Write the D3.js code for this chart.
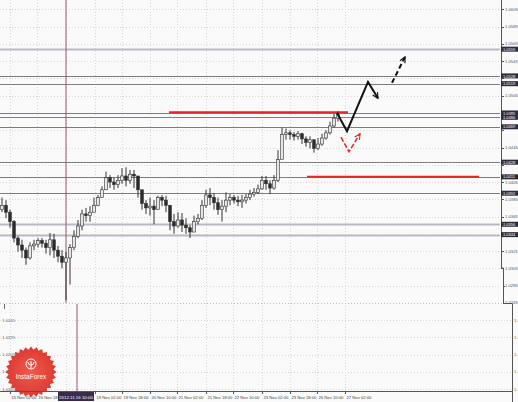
<!DOCTYPE html>
<html>
<head>
<meta charset="utf-8">
<script src="https://cdn.jsdelivr.net/npm/d3@7"></script>
<style>
  html, body { margin: 0; padding: 0; background: #fafafa; }
  svg { display: block; font-family: "Liberation Sans", Arial, sans-serif; }
</style>
</head>
<body>
<svg id="chart" width="518" height="402"></svg>
<script>
// candles (H-bars)
const firstOpen = 1.0373;
const closes = [1.0378,1.0370,1.0359,1.0340,1.0332,1.0326,1.0317,1.0331,1.0333,1.0337,
  1.0334,1.0329,1.0338,1.0326,1.0319,1.0312,1.0317,1.0329,1.0342,1.0354,
  1.0368,1.0366,1.0370,1.0378,1.0387,1.0396,1.0410,1.0405,1.0402,1.0407,
  1.0412,1.0407,1.0414,1.0412,1.0396,1.0380,1.0375,1.0377,1.0373,1.0387,
  1.0384,1.0378,1.0359,1.0354,1.0361,1.0355,1.0352,1.0347,1.0359,1.0363,
  1.0378,1.0390,1.0387,1.0381,1.0373,1.0377,1.0384,1.0387,1.0384,1.0382,
  1.0384,1.0387,1.0391,1.0393,1.0397,1.0407,1.0403,1.0398,1.0407,1.0431,
  1.0460,1.0462,1.0460,1.0458,1.0461,1.0455,1.0451,1.0454,1.0444,1.0449,
  1.0456,1.0462,1.0470,1.0479,1.0484];
const highs = [1.0387,1.0384,1.0373,1.0361,1.0342,1.0338,1.0329,1.0335,1.0338,1.0340,
  1.0340,1.0338,1.0346,1.0345,1.0331,1.0326,1.0324,1.0333,1.0349,1.0361,
  1.0373,1.0375,1.0377,1.0387,1.0390,1.0400,1.0417,1.0413,1.0410,1.0413,
  1.0421,1.0422,1.0419,1.0419,1.0410,1.0396,1.0384,1.0387,1.0384,1.0389,
  1.0390,1.0389,1.0378,1.0368,1.0370,1.0369,1.0363,1.0355,1.0366,1.0368,
  1.0384,1.0396,1.0398,1.0392,1.0387,1.0384,1.0393,1.0391,1.0390,1.0389,
  1.0390,1.0391,1.0396,1.0398,1.0402,1.0412,1.0412,1.0407,1.0413,1.0442,
  1.0468,1.0467,1.0465,1.0463,1.0464,1.0462,1.0458,1.0458,1.0454,1.0456,
  1.0461,1.0465,1.0475,1.0484,1.0487];
const lows = [1.0370,1.0363,1.0352,1.0335,1.0324,1.0317,1.0309,1.0315,1.0326,1.0329,
  1.0329,1.0322,1.0320,1.0317,1.0312,1.0305,1.0268,1.0286,1.0326,1.0340,
  1.0349,1.0359,1.0359,1.0370,1.0377,1.0387,1.0396,1.0398,1.0396,1.0398,
  1.0403,1.0400,1.0403,1.0398,1.0387,1.0373,1.0368,1.0366,1.0356,1.0373,
  1.0377,1.0370,1.0349,1.0345,1.0352,1.0347,1.0345,1.0340,1.0347,1.0356,
  1.0361,1.0375,1.0378,1.0373,1.0367,1.0359,1.0370,1.0378,1.0380,1.0377,
  1.0375,1.0380,1.0384,1.0388,1.0391,1.0396,1.0396,1.0391,1.0396,1.0405,
  1.0431,1.0454,1.0454,1.0453,1.0454,1.0449,1.0446,1.0444,1.0439,1.0442,
  1.0447,1.0454,1.0460,1.0468,1.0475];

// price axis
const priceTicks = [1.0605,1.0585,1.0565,1.0545,1.0525,1.0505,1.0485,1.0465,1.0445,
  1.0425,1.0405,1.0385,1.0365,1.0345,1.0325,1.0305,1.0285,1.0265];

// horizontal support / resistance levels
const levels = [1.0559,1.0528,1.0519,1.0485,1.0480,1.0469,1.0428,1.0411,1.0392,1.0356,1.0344];
const lightLevels = [1.0559,1.0356,1.0344];

// red target lines: price, first bar, last bar
const redPrices = [1.0486, 1.0411];
const redFrom = [41.75, 76.25];
const redTo = [86.5, 119.25];

// forecast arrows [bar, price]
const forecastMain = [[83.75,1.0485],[86.25,1.0464],[91.5,1.0521],[94,1.0502]];
const forecastNext = [[97.5,1.0520],[100.75,1.0550]];
const forecastAlt = [[84.75,1.0457],[86.75,1.0440],[89.5,1.0461]];

// time axis
const timeLabels = ["15 Nov 02:00","15 Nov 18:00","19 Nov 02:00","19 Nov 18:00","20 Nov 10:00",
  "21 Nov 02:00","21 Nov 18:00","22 Nov 10:00","23 Nov 02:00","23 Nov 18:00","26 Nov 10:00","27 Nov 02:00"];
const timeBars = [2, 8.75, 23.25, 30, 37, 43.75, 51, 57.75, 65, 72, 78.75, 85.75];
const cursorBar = 16;
const cursorLabel = "2012.11.16 10:00";

// lower panel scale labels
const subTicks = [1.0245,1.0225,1.0205,1.0185,1.0165];
const subTicksRight = ["1.4245","1.4225","1.4205","1.4185","1.4165"];

const opens = closes.map((c, i) => i ? closes[i - 1] : firstOpen);

const svg = d3.select("#chart");
const x = d3.scaleLinear().domain([0, 124.5]).range([2, 500]);
const y = d3.scaleLinear().domain([1.0303, 1.0616]).range([270, 0]);
const ySub = d3.scaleLinear().domain([1.0165, 1.0245]).range([389, 320]);

const gridCol = "#d6d6d6";

// grid
const grid = svg.append("g").attr("stroke", gridCol).attr("stroke-dasharray", "1,2").attr("stroke-width", 1);
grid.selectAll(".hg").data(priceTicks.slice(0, 17)).enter().append("line")
  .attr("x1", 0).attr("x2", 500)
  .attr("y1", d => Math.round(y(d)) + 0.5).attr("y2", d => Math.round(y(d)) + 0.5);
grid.selectAll(".sg").data(subTicks).enter().append("line")
  .attr("x1", 0).attr("x2", 511)
  .attr("y1", d => Math.round(ySub(d)) + 0.5).attr("y2", d => Math.round(ySub(d)) + 0.5);
grid.selectAll(".vg").data(timeBars.concat([cursorBar])).enter().append("line")
  .attr("x1", d => Math.round(x(d)) + 0.5).attr("x2", d => Math.round(x(d)) + 0.5)
  .attr("y1", 0).attr("y2", 391);
grid.append("line").attr("x1", 0).attr("x2", 504).attr("y1", 303.5).attr("y2", 303.5)
  .attr("stroke", "#bbb");

// levels
svg.append("g").selectAll("line").data(levels).enter().append("line")
  .attr("x1", 0).attr("x2", 500)
  .attr("y1", d => Math.round(y(d)) + 0.5).attr("y2", d => Math.round(y(d)) + 0.5)
  .attr("stroke", d => lightLevels.includes(d) ? "#b9b9c4" : "#7c7c84")
  .attr("stroke-width", d => lightLevels.includes(d) ? 2 : 1);

// cursor vertical lines
svg.append("line").attr("x1", x(cursorBar)).attr("x2", x(cursorBar))
  .attr("y1", 0).attr("y2", 303).attr("stroke", "#9a5a6a").attr("stroke-width", 1);
svg.append("line").attr("x1", x(cursorBar) + 11).attr("x2", x(cursorBar) + 11)
  .attr("y1", 304).attr("y2", 391).attr("stroke", "#c9a7b4").attr("stroke-width", 2);

// red lines
svg.append("g").selectAll("line").data(redPrices).enter().append("line")
  .attr("x1", (d, i) => x(redFrom[i])).attr("x2", (d, i) => x(redTo[i]))
  .attr("y1", d => y(d)).attr("y2", d => y(d))
  .attr("stroke", "#e3262a").attr("stroke-width", 2);

// candles
const candles = svg.append("g");
closes.forEach((c, i) => {
  const o = opens[i];
  const cx = x(i);
  candles.append("line")
    .attr("x1", cx).attr("x2", cx)
    .attr("y1", y(highs[i])).attr("y2", y(lows[i]))
    .attr("stroke", "#333").attr("stroke-width", 1);
  const top = y(Math.max(o, c)), bot = y(Math.min(o, c));
  candles.append("rect")
    .attr("x", cx - 1.4).attr("width", 2.8)
    .attr("y", top).attr("height", Math.max(1, bot - top))
    .attr("fill", c >= o ? "#e6e6e6" : "#2b2b2b")
    .attr("stroke", "#333").attr("stroke-width", 0.6);
});

// arrow markers
const defs = svg.append("defs");
function marker(id, col) {
  defs.append("marker").attr("id", id).attr("viewBox", "0 0 10 10")
    .attr("refX", 9).attr("refY", 5).attr("markerWidth", 7).attr("markerHeight", 7)
    .attr("markerUnits", "userSpaceOnUse").attr("orient", "auto")
    .append("path").attr("d", "M1,1 L9,5 L1,9").attr("fill", "none")
    .attr("stroke", col).attr("stroke-width", 1.6);
}
marker("arrBlack", "#111");
marker("arrRed", "#e3262a");

const line = d3.line().x(d => x(d[0])).y(d => y(d[1]));
svg.append("path").attr("d", line(forecastMain)).attr("fill", "none")
  .attr("stroke", "#111").attr("stroke-width", 2).attr("marker-end", "url(#arrBlack)");
svg.append("path").attr("d", line(forecastNext)).attr("fill", "none")
  .attr("stroke", "#111").attr("stroke-width", 2).attr("stroke-dasharray", "5,3")
  .attr("marker-end", "url(#arrBlack)");
svg.append("path").attr("d", line(forecastAlt)).attr("fill", "none")
  .attr("stroke", "#e3262a").attr("stroke-width", 1.5).attr("stroke-dasharray", "5,2")
  .attr("marker-end", "url(#arrRed)");

// price axis
const axisCol = "#555";
svg.append("path").attr("d", "M501.5,0 V268 H503.5 V303.5 H512.5 V402")
  .attr("fill", "none").attr("stroke", axisCol);
// tick labels hidden under a level box are skipped
const visibleTicks = priceTicks.filter(t => !levels.some(l => Math.abs(y(l) - y(t)) < 4));
const ticks = svg.append("g");
ticks.selectAll("line").data(priceTicks).enter().append("line")
  .attr("x1", (d, i) => i < 16 ? 501 : 503).attr("x2", (d, i) => i < 16 ? 504 : 505)
  .attr("y1", d => Math.round(y(d)) + 0.5).attr("y2", d => Math.round(y(d)) + 0.5)
  .attr("stroke", axisCol);
ticks.selectAll("text").data(visibleTicks).enter().append("text")
  .attr("x", 505).attr("y", d => y(d) + 1.5)
  .attr("font-size", 4.2).attr("fill", "#555").text(d => d.toFixed(4));

// level boxes on the axis
const boxes = svg.append("g").selectAll("g").data(levels).enter().append("g")
  .attr("transform", d => `translate(501,${y(d) - 2.5})`);
boxes.append("rect").attr("width", 17).attr("height", 5).attr("fill", "#2a2c40");
boxes.append("text").attr("x", 2).attr("y", 4.1).attr("font-size", 4)
  .attr("fill", "#fff").text(d => d.toFixed(4));

// lower panel labels
svg.append("g").selectAll("text").data(subTicks).enter().append("text")
  .attr("x", 15).attr("y", d => ySub(d) + 1.5).attr("text-anchor", "end")
  .attr("font-size", 4.2).attr("fill", "#666").text(d => d.toFixed(4));
svg.append("g").selectAll("text").data(subTicksRight).enter().append("text")
  .attr("x", 514).attr("y", (d, i) => ySub(subTicks[i]) + 1.5)
  .attr("font-size", 4.2).attr("fill", "#666").text(d => d);
svg.append("line").attr("x1", 4.5).attr("x2", 4.5).attr("y1", 304).attr("y2", 309).attr("stroke", "#666");

// logo
const cxL = 31, cyL = 372;
const grad = defs.append("radialGradient").attr("id", "logoGrad");
grad.append("stop").attr("offset", "0%").attr("stop-color", "#f25a4e");
grad.append("stop").attr("offset", "100%").attr("stop-color", "#dc3a30");
const starPts = d3.range(56).map(k => {
  const a = k * Math.PI / 28;
  const r = k % 2 ? 22.5 : 25.5;
  return [cxL + r * Math.sin(a), cyL - r * Math.cos(a)];
});
svg.append("polygon").attr("points", starPts.map(p => p.join(",")).join(" "))
  .attr("fill", "url(#logoGrad)");
svg.append("circle").attr("cx", cxL).attr("cy", cyL - 8).attr("r", 5)
  .attr("fill", "none").attr("stroke", "#fff").attr("stroke-width", 1);
svg.append("path")
  .attr("d", `M${cxL},${cyL - 4} V${cyL - 11} M${cxL - 3},${cyL - 10} Q${cxL - 3},${cyL - 7} ${cxL},${cyL - 7} Q${cxL + 3},${cyL - 7} ${cxL + 3},${cyL - 10}`)
  .attr("fill", "none").attr("stroke", "#fff").attr("stroke-width", 1);
svg.append("text").attr("x", cxL).attr("y", cyL + 7).attr("text-anchor", "middle")
  .attr("font-size", 6.5).attr("fill", "#fff").text("InstaForex");

// time axis
svg.append("line").attr("x1", 0).attr("x2", 512).attr("y1", 391.5).attr("y2", 391.5).attr("stroke", axisCol);
const tg = svg.append("g");
tg.selectAll("line").data(timeBars).enter().append("line")
  .attr("x1", d => Math.round(x(d)) + 0.5).attr("x2", d => Math.round(x(d)) + 0.5)
  .attr("y1", 391).attr("y2", 394).attr("stroke", axisCol);
tg.selectAll("text").data(timeLabels).enter().append("text")
  .attr("x", (d, i) => x(timeBars[i]) + 1.5).attr("y", 398.5)
  .attr("font-size", 4.2).attr("fill", "#444").text(d => d);
svg.append("rect").attr("x", x(cursorBar) - 8).attr("y", 392).attr("width", 36).attr("height", 9)
  .attr("fill", "#3b2a4a");
svg.append("text").attr("x", x(cursorBar) + 10).attr("y", 398.5).attr("text-anchor", "middle")
  .attr("font-size", 4.4).attr("fill", "#fff").text(cursorLabel);
</script>
</body>
</html>
